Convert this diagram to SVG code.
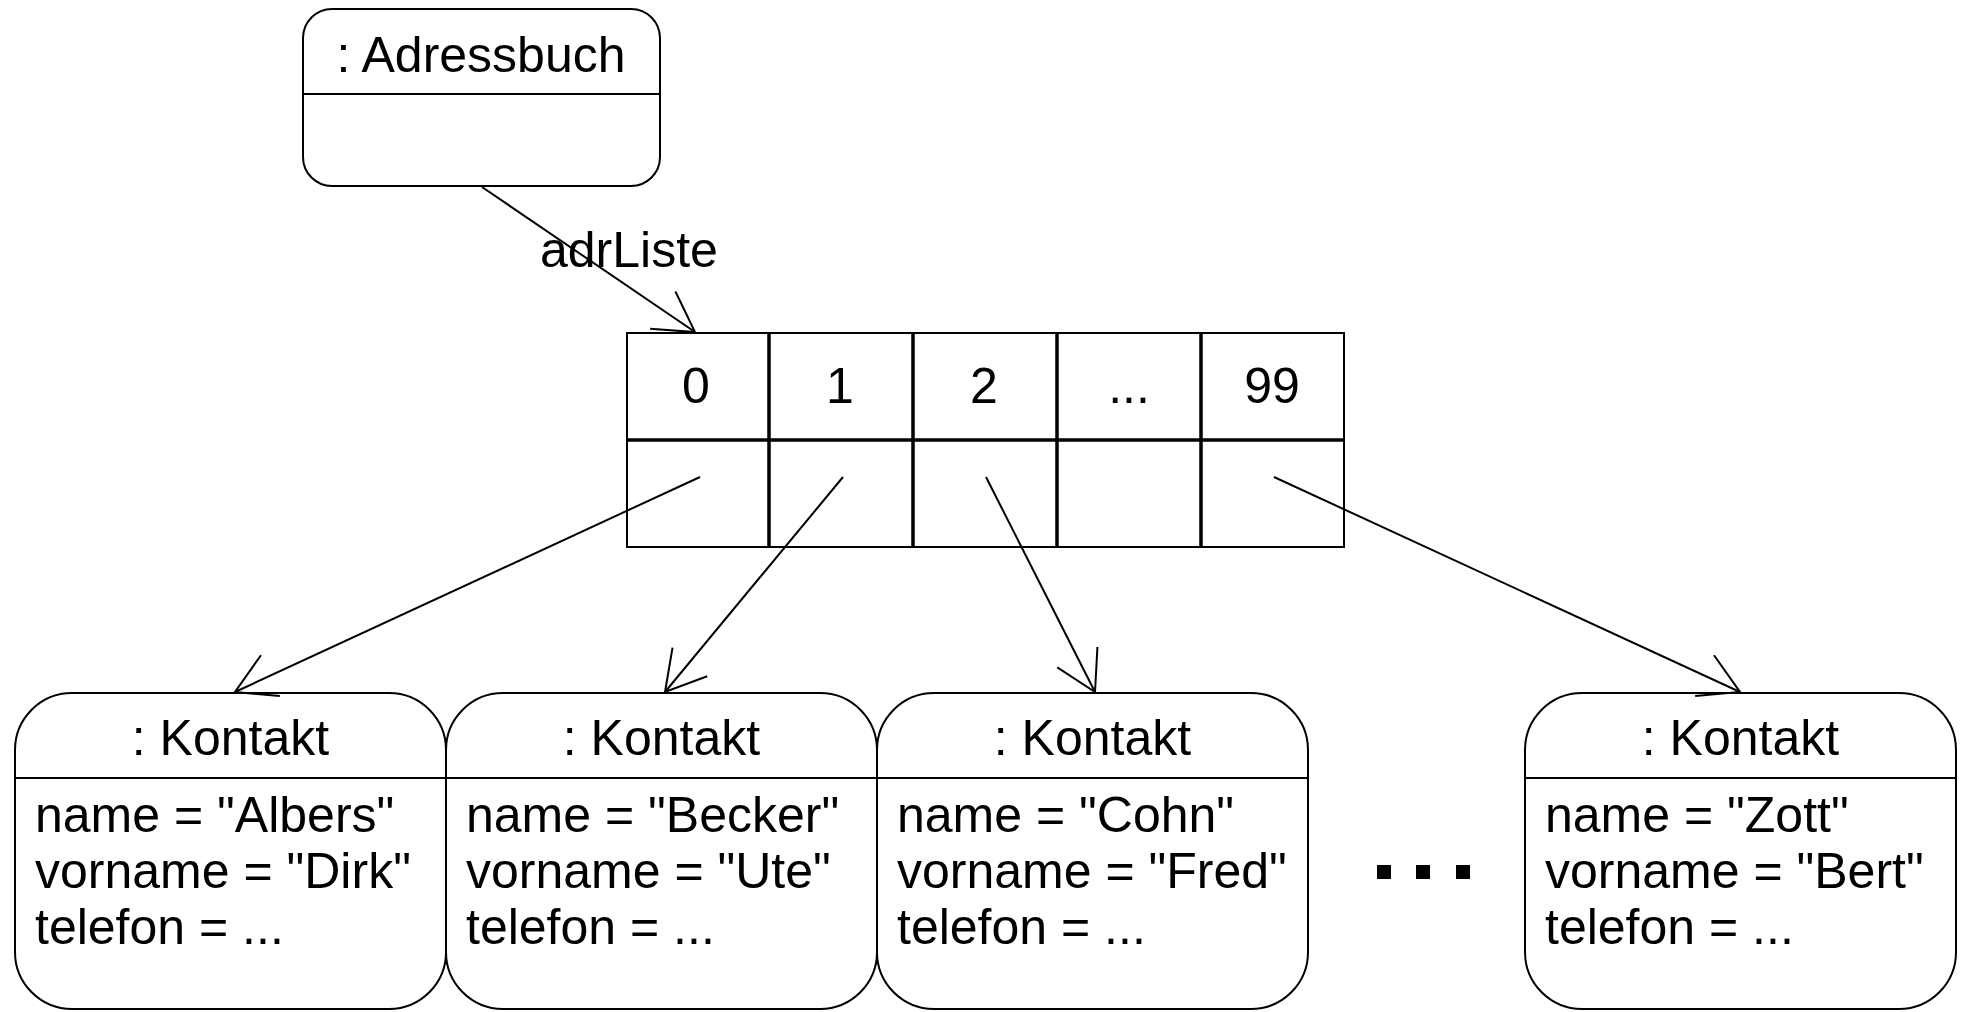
<svg xmlns="http://www.w3.org/2000/svg" width="1966" height="1012" viewBox="0 0 1966 1012">
<style>
  .box { fill: #ffffff; stroke: #000000; stroke-width: 2; }
  .div { stroke: #000000; stroke-width: 2; }
  .thick { stroke: #000000; stroke-width: 3.5; }
  .t { font-family: "Liberation Sans", Arial, sans-serif; font-size: 50px; fill: #000000; }
  .c { text-anchor: middle; }
  .conn { stroke: #000000; stroke-width: 2; fill: none; marker-end: url(#open); }
</style>
<defs>
  <marker id="open" markerUnits="userSpaceOnUse" viewBox="-46 -26 50 52" refX="0" refY="0" markerWidth="50" markerHeight="52" orient="auto" overflow="visible">
    <path d="M -39 -22.5 L 0 0 L -39 22.5" fill="none" stroke="#000000" stroke-width="2"/>
  </marker>
</defs>
<rect x="0" y="0" width="1966" height="1012" fill="#ffffff"/>

<g id="adressbuch">
  <rect class="box" x="303" y="9" width="357" height="177" rx="29" ry="29"/>
  <line class="div" x1="303" y1="94" x2="660" y2="94"/>
  <text class="t c" x="481" y="72">: Adressbuch</text>
</g>

<g id="array">
  <rect class="box" x="627" y="333" width="717" height="214"/>
  <line class="thick" x1="627" y1="440" x2="1344" y2="440"/>
  <line class="thick" x1="769" y1="333" x2="769" y2="547"/>
  <line class="thick" x1="913" y1="333" x2="913" y2="547"/>
  <line class="thick" x1="1057" y1="333" x2="1057" y2="547"/>
  <line class="thick" x1="1201" y1="333" x2="1201" y2="547"/>
  <text class="t c" x="696" y="403">0</text>
  <text class="t c" x="840" y="403">1</text>
  <text class="t c" x="984" y="403">2</text>
  <text class="t c" x="1129" y="403">...</text>
  <text class="t c" x="1272" y="403">99</text>
</g>

<g id="kontakt1">
  <rect class="box" x="15" y="693" width="431" height="316" rx="57" ry="57"/>
  <line class="div" x1="15" y1="778" x2="446" y2="778"/>
  <text class="t c" x="230.5" y="755">: Kontakt</text>
  <text class="t" x="35" y="832">name = "Albers"</text>
  <text class="t" x="35" y="888">vorname = "Dirk"</text>
  <text class="t" x="35" y="944">telefon = ...</text>
</g>

<g id="kontakt2">
  <rect class="box" x="446" y="693" width="431" height="316" rx="57" ry="57"/>
  <line class="div" x1="446" y1="778" x2="877" y2="778"/>
  <text class="t c" x="661.5" y="755">: Kontakt</text>
  <text class="t" x="466" y="832">name = "Becker"</text>
  <text class="t" x="466" y="888">vorname = "Ute"</text>
  <text class="t" x="466" y="944">telefon = ...</text>
</g>

<g id="kontakt3">
  <rect class="box" x="877" y="693" width="431" height="316" rx="57" ry="57"/>
  <line class="div" x1="877" y1="778" x2="1308" y2="778"/>
  <text class="t c" x="1092.5" y="755">: Kontakt</text>
  <text class="t" x="897" y="832">name = "Cohn"</text>
  <text class="t" x="897" y="888">vorname = "Fred"</text>
  <text class="t" x="897" y="944">telefon = ...</text>
</g>

<g id="ellipsis">
  <rect x="1377" y="865" width="14" height="14" fill="#000000"/>
  <rect x="1416" y="865" width="14" height="14" fill="#000000"/>
  <rect x="1456" y="865" width="14" height="14" fill="#000000"/>
</g>

<g id="kontakt4">
  <rect class="box" x="1525" y="693" width="431" height="316" rx="57" ry="57"/>
  <line class="div" x1="1525" y1="778" x2="1956" y2="778"/>
  <text class="t c" x="1740.5" y="755">: Kontakt</text>
  <text class="t" x="1545" y="832">name = "Zott"</text>
  <text class="t" x="1545" y="888">vorname = "Bert"</text>
  <text class="t" x="1545" y="944">telefon = ...</text>
</g>

<g id="connectors">
  <line class="conn" x1="482" y1="187" x2="695" y2="332"/>
  <text class="t" x="540" y="267">adrListe</text>
  <line class="conn" x1="700" y1="477" x2="235" y2="692"/>
  <line class="conn" x1="843" y1="477" x2="665" y2="692"/>
  <line class="conn" x1="986" y1="477" x2="1095" y2="692"/>
  <line class="conn" x1="1274" y1="477" x2="1740" y2="692"/>
</g>
</svg>
